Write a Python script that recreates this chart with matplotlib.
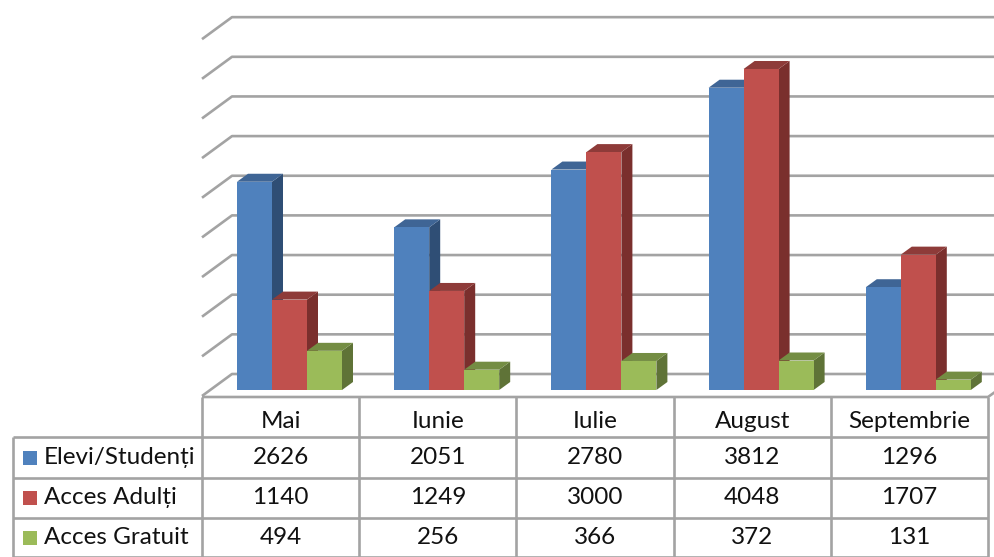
import matplotlib
matplotlib.use("Agg")
import matplotlib.pyplot as plt
from matplotlib.patches import Polygon, Rectangle

plt.rcParams['font.family'] = ['Lato', 'Noto Sans', 'DejaVu Sans']

categories = ["Mai", "Iunie", "Iulie", "August", "Septembrie"]
series_names = ["Elevi/Studenți", "Acces Adulți", "Acces Gratuit"]
elevi = [2626, 2051, 2780, 3812, 1296]
adulti = [1140, 1249, 3000, 4048, 1707]
gratuit = [494, 256, 366, 372, 131]
grid_values = [0, 500, 1000, 1500, 2000, 2500, 3000, 3500, 4000, 4500]

W, H = 995, 557
X0, CW = 202, 157.2      # table left edge / category width (px)
Y0, VS = 390, 0.0793     # base of the bars / px per unit

fig = plt.figure(figsize=(W / 100, H / 100), dpi=100, facecolor="white")
ax = fig.add_axes([0, 0, 1, 1])
ax.set_xlim((0 - X0) / CW, (W - X0) / CW)
ax.set_ylim((Y0 - H) / VS, Y0 / VS)
ax.axis("off")

def dx(px):
    return px / CW

def dy(px):
    return px / VS

GRID = "#A3A3A3"
LW = 1.9

# wall and floor gridlines
for v in grid_values:
    ax.plot([0, dx(30), 5 + dx(12)],
            [v - dy(22) + dy(16), v + dy(16), v + dy(16)],
            color=GRID, lw=LW, solid_capstyle="butt", zorder=1)

# 3D bars
BAR_W = 35 / CW
START = 35 / CW
DX, DY = dx(11), dy(8)
styles = [("#4F81BD", "#3F6595", "#2F4E75"),
          ("#C0504D", "#8E3B39", "#7A2F2D"),
          ("#9BBB59", "#748D43", "#5F7337")]
series = [elevi, adulti, gratuit]
z = 3
for i in range(len(categories)):
    for j, values in enumerate(series):
        front, top, side = styles[j]
        x = i + START + j * BAR_W
        v = values[i]
        ax.add_patch(Polygon([(x + BAR_W, 0), (x + BAR_W + DX, DY),
                              (x + BAR_W + DX, v + DY), (x + BAR_W, v)],
                             fc=side, ec="none", zorder=z))
        ax.add_patch(Polygon([(x, v), (x + DX, v + DY),
                              (x + BAR_W + DX, v + DY), (x + BAR_W, v)],
                             fc=top, ec="none", zorder=z))
        ax.add_patch(Rectangle((x, 0), BAR_W, v, fc=front, ec="none", zorder=z + 1))
        z += 2

# data table
rows_px = [397, 437, 478, 518, 557]
y_of = lambda px: (Y0 - px) / VS
x_left = (13 - X0) / CW
tz = 50
ax.plot([0, 5, 5 + dx(7)], [y_of(397), y_of(397), y_of(392)],
        color=GRID, lw=LW, zorder=tz, solid_capstyle="butt")
for px in rows_px[1:]:
    ax.plot([x_left, 5], [y_of(px)] * 2, color=GRID, lw=LW, zorder=tz, solid_capstyle="butt")
for k in range(6):
    ax.plot([k, k], [y_of(397), y_of(557)], color=GRID, lw=LW, zorder=tz, solid_capstyle="butt")
ax.plot([x_left, x_left], [y_of(437), y_of(557)], color=GRID, lw=LW, zorder=tz, solid_capstyle="butt")

FS = 17.5
TXT = "#111111"
for i, c in enumerate(categories):
    ax.text(i + 0.5, y_of(422), c, ha="center", va="center", fontsize=FS, color=TXT, zorder=tz)
row_centers = [458, 498, 538]
for r, values in enumerate(series):
    yc = row_centers[r]
    for i, v in enumerate(values):
        ax.text(i + 0.5, y_of(yc), str(v), ha="center", va="center", fontsize=FS, color=TXT, zorder=tz)
    ax.add_patch(Rectangle(((23 - X0) / CW, y_of(yc + 7)), dx(14), dy(14),
                           fc=styles[r][0], ec="none", zorder=tz))
    ax.text((44 - X0) / CW, y_of(yc - 1), series_names[r], ha="left", va="center",
            fontsize=FS, color=TXT, zorder=tz)

fig.savefig("out.png", dpi=100, facecolor="white")
